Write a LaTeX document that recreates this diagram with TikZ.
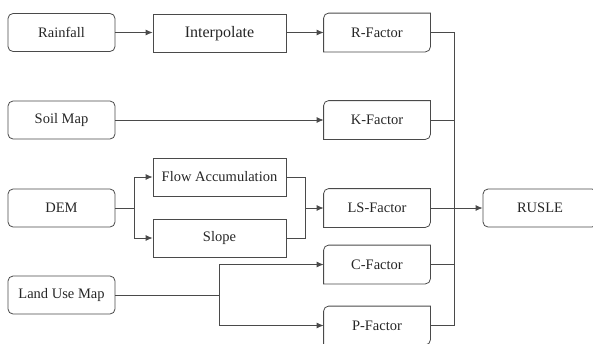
\documentclass[tikz,border=0pt]{standalone}
\usepackage{fontspec}
\setmainfont{Liberation Serif}
\usetikzlibrary{arrows.meta}

\definecolor{linegray}{HTML}{4A4A4A}

\begin{document}
\begin{tikzpicture}[x=1pt, y=-1pt, line width=0.8pt, draw=linegray,
	every node/.style={font=\fontsize{14.5}{16}\selectfont, text=black!85},
	srcbox/.style={draw=linegray, rounded corners=5pt, minimum width=107pt, minimum height=38pt, inner sep=0pt},
	procbox/.style={draw=linegray, minimum width=133pt, minimum height=38pt, inner sep=0pt},
	factorbox/.style={minimum width=106pt, minimum height=38pt, inner sep=0pt},
	arr/.style={draw=linegray, -{Latex[length=7pt, width=6pt]}}]
	\clip (0,0) rectangle (593,343);
	\useasboundingbox (0,0) rectangle (593,343);
	% inputs
	\node[srcbox] (rain) at (61.5,32.5) {Rainfall};
	\node[srcbox] (soil) at (61.5,120) {Soil Map};
	\node[srcbox] (dem) at (61.5,208) {DEM};
	\node[srcbox] (land) at (61.5,295) {Land Use Map};
	% processing
	\node[procbox, font=\fontsize{16}{18}\selectfont] (interp) at (219.5,33.5) {Interpolate};
	\node[procbox] (flow) at (219.5,177) {Flow Accumulation};
	\node[procbox] (slope) at (219.5,238) {Slope};
	% factors
	\node[factorbox] (rf) at (377,32.5) {R-Factor};
	\node[factorbox] (kf) at (377,120) {K-Factor};
	\node[factorbox] (lsf) at (377,208) {LS-Factor};
	\node[factorbox] (cf) at (377,264.5) {C-Factor};
	\node[factorbox] (pf) at (377,325.5) {P-Factor};
	\node[srcbox, minimum width=114pt] (rusle) at (540,208) {RUSLE};
	\foreach \n in {rf,kf,lsf,cf,pf}
		\draw (\n.west) [rounded corners=5pt] -- (\n.north west) [sharp corners] -- (\n.north east)
			[rounded corners=5pt] -- (\n.south east) [sharp corners] -- (\n.south west) -- cycle;
	% junctions
	\coordinate (demsplit) at (134,208);
	\coordinate (lsmerge) at (305,208);
	\coordinate (landsplit) at (219,295);
	\coordinate (bustop) at (454,32.5);
	\coordinate (busbot) at (454,325.5);
	% connectors
	\draw[arr] (rain) -- (interp.west |- rain);
	\draw[arr] (interp.east |- rf) -- (rf);
	\draw[arr] (soil) -- (kf);
	\draw (dem) -- (demsplit);
	\draw[arr] (demsplit) |- (flow);
	\draw[arr] (demsplit) |- (slope);
	\draw (flow) -| (lsmerge);
	\draw (slope) -| (lsmerge);
	\draw[arr] (lsmerge) -- (lsf);
	\draw (land) -- (landsplit);
	\draw[arr] (landsplit) |- (cf);
	\draw[arr] (landsplit) |- (pf);
	\draw (rf) -- (bustop) -- (busbot) -- (pf);
	\draw (kf) -| (bustop);
	\draw (cf) -| (bustop);
	\draw[arr] (lsf) -- (rusle);
\end{tikzpicture}
\end{document}
